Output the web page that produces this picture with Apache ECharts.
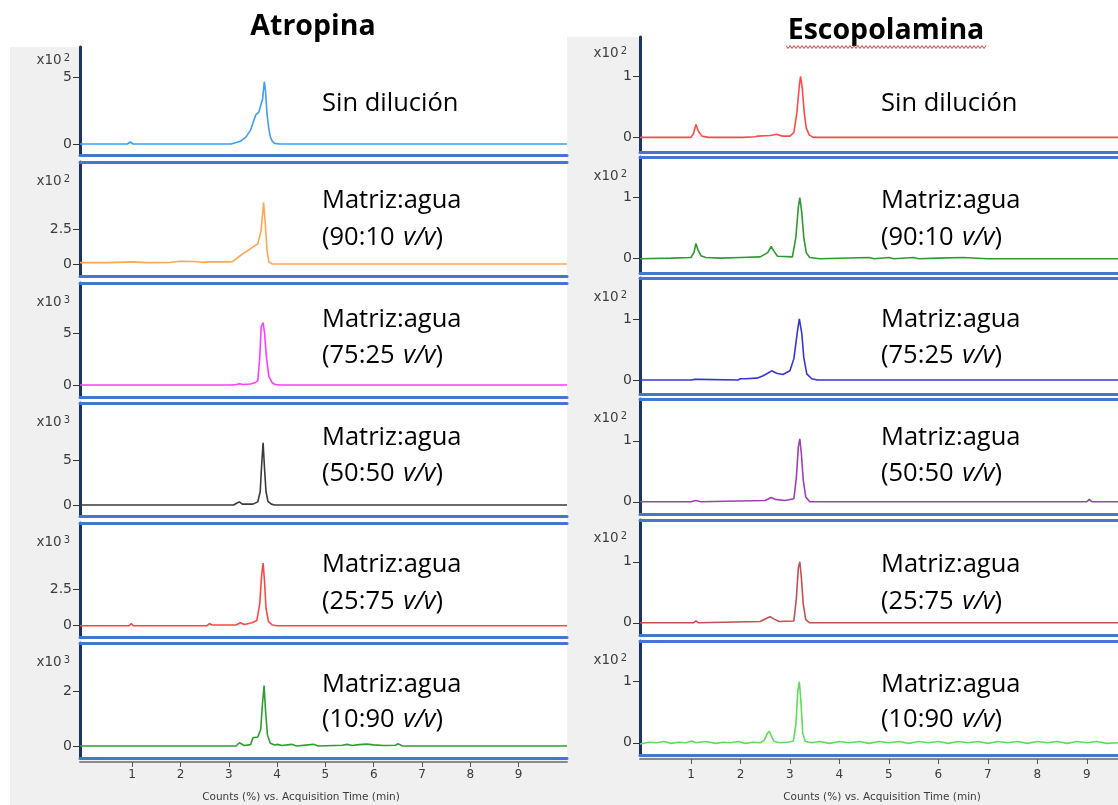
<!DOCTYPE html>
<html><head><meta charset="utf-8">
<script src="https://cdn.jsdelivr.net/npm/echarts@6/dist/echarts.min.js"></script>
<style>
html,body{margin:0;padding:0;background:#fff;}
#wrap{position:relative;width:1118px;height:805px;overflow:hidden;}
.bg{position:absolute;}
#chart{position:absolute;left:0;top:0;width:1118px;height:805px;}
</style></head><body>
<div id="wrap">
<div class="bg" style="left:10px;top:47px;width:557px;height:758px;background:#f0f0f0"></div>
<div class="bg" style="left:567px;top:37px;width:551px;height:768px;background:#f0f0f0"></div>
<div class="bg" style="left:80px;top:47px;width:487px;height:711px;background:#fff"></div>
<div class="bg" style="left:640px;top:37px;width:478px;height:719px;background:#fff"></div>
<div id="chart"></div>
</div>
<script>
// ---------------- DATA ----------------
const panelTitles = ['Atropina', 'Escopolamina'];
const sampleLabels = ['Sin dilución', 'Matriz:agua', 'Matriz:agua', 'Matriz:agua', 'Matriz:agua', 'Matriz:agua'];
const sampleRatios = [null, '90:10', '75:25', '50:50', '25:75', '10:90'];
const timeTicks = [1, 2, 3, 4, 5, 6, 7, 8, 9];
const xAxisTitle = 'Counts (%) vs. Acquisition Time (min)';

const atropinaTickValues = [5, 2.5, 5, 5, 2.5, 2];
const atropinaExponents = ['2', '2', '3', '3', '3', '3'];
const escopolaminaTickValues = [1, 1, 1, 1, 1, 1];
const escopolaminaExponents = ['2', '2', '2', '2', '2', '2'];

// Atropina traces [time (min), counts (x10^n)]
const atropinaSinDilucion = [[-0.08,0],[0.9,0],[0.96,0.15],[1.02,0],[3.05,0],[3.12,0.08],[3.24,0.2],[3.35,0.5],[3.45,1.05],[3.52,1.8],[3.56,2.2],[3.62,2.4],[3.66,2.5],[3.7,3.4],[3.735,4.7],[3.76,4.0],[3.79,2.3],[3.83,1.1],[3.86,0.55],[3.9,0.2],[3.95,0.05],[4.05,0],[10,0]];
const atropina9010 = [[-0.08,0.1],[0.5,0.1],[1.0,0.15],[1.3,0.1],[1.8,0.12],[2.0,0.2],[2.3,0.18],[2.45,0.12],[2.6,0.15],[3.0,0.15],[3.07,0.16],[3.2,0.5],[3.31,0.78],[3.41,1.0],[3.51,1.24],[3.6,1.45],[3.64,1.52],[3.67,2.43],[3.72,4.4],[3.76,2.66],[3.79,1.0],[3.83,0.16],[3.9,0],[10,0]];
const atropina7525 = [[-0.08,0],[3.08,0],[3.12,0.15],[3.16,0.05],[3.22,0.12],[3.3,0.05],[3.45,0.1],[3.55,0.25],[3.6,0.4],[3.64,2.6],[3.67,5.6],[3.71,6.0],[3.74,5.0],[3.78,2.6],[3.83,0.8],[3.9,0.2],[3.96,0.05],[4.05,0],[10,0]];
const atropina5050 = [[-0.08,0],[3.1,0],[3.16,0.2],[3.22,0.35],[3.28,0.1],[3.5,0.1],[3.6,0.35],[3.65,1.5],[3.68,4.5],[3.71,6.9],[3.74,4.0],[3.77,1.5],[3.81,0.4],[3.88,0.1],[3.95,0],[10,0]];
const atropina2575 = [[-0.08,0],[0.94,0],[0.98,0.15],[1.02,0],[2.55,0],[2.6,0.15],[2.65,0.05],[3.15,0.05],[3.24,0.2],[3.32,0.08],[3.48,0.2],[3.58,0.35],[3.64,1.5],[3.68,3.5],[3.71,4.3],[3.74,3.0],[3.77,1.2],[3.82,0.3],[3.9,0.05],[4.0,0],[10,0]];
const atropina1090 = [[-0.08,0],[3.15,0],[3.22,0.12],[3.26,0.1],[3.32,0.02],[3.45,0.05],[3.5,0.3],[3.6,0.33],[3.66,0.6],[3.7,1.6],[3.73,2.2],[3.76,1.3],[3.8,0.4],[3.86,0.1],[3.95,0.04],[4.0,0.06],[4.1,0.02],[4.3,0.06],[4.4,0],[4.75,0.06],[4.85,0],[5.35,0.03],[5.45,0.06],[5.55,0.02],[5.7,0.05],[5.85,0.07],[6.0,0.04],[6.2,0.02],[6.45,0.03],[6.5,0.08],[6.6,0],[10,0]];

// Escopolamina traces [time (min), counts (x10^2)]
const escopolaminaSinDilucion = [[-0.03,0],[1.0,0],[1.05,0.06],[1.1,0.21],[1.15,0.1],[1.22,0.02],[1.35,0],[1.95,0],[1.99,0.02],[2.05,0],[2.3,0.01],[2.35,0.02],[2.6,0.03],[2.73,0.05],[2.85,0.02],[3.0,0.02],[3.08,0.08],[3.14,0.4],[3.19,0.85],[3.215,1.0],[3.25,0.8],[3.29,0.4],[3.33,0.15],[3.39,0.04],[3.47,0],[9.63,0]];
const escopolamina9010 = [[-0.03,0],[0.6,0.01],[1.0,0.02],[1.06,0.1],[1.1,0.25],[1.14,0.15],[1.2,0.05],[1.3,0.02],[1.6,0.01],[2.0,0.02],[2.4,0.03],[2.55,0.1],[2.62,0.2],[2.68,0.12],[2.75,0.04],[3.05,0.03],[3.12,0.35],[3.17,0.85],[3.2,1.0],[3.24,0.75],[3.28,0.35],[3.33,0.1],[3.4,0.02],[3.6,0],[4.6,0.02],[4.7,0],[5.0,0.02],[5.1,0],[5.5,0.02],[5.6,0],[6.0,0.01],[6.5,0.02],[7.0,0],[9.63,0]];
const escopolamina7525 = [[-0.03,0],[1.0,0],[1.03,0.03],[1.08,0.01],[1.12,0.03],[1.18,0.01],[1.95,0],[2.0,0.02],[2.1,0.02],[2.33,0.03],[2.46,0.07],[2.55,0.11],[2.63,0.15],[2.73,0.11],[2.86,0.09],[3.0,0.15],[3.08,0.35],[3.12,0.6],[3.15,0.79],[3.19,1.0],[3.24,0.76],[3.28,0.37],[3.34,0.1],[3.44,0.02],[3.55,0],[9.63,0]];
const escopolamina5050 = [[-0.03,0],[1.0,0],[1.1,0.02],[1.2,0],[2.5,0.02],[2.62,0.07],[2.7,0.04],[2.9,0.02],[3.08,0.05],[3.13,0.4],[3.17,0.9],[3.2,1.03],[3.23,0.8],[3.27,0.35],[3.32,0.08],[3.4,0],[9.0,0],[9.05,0.04],[9.1,0],[9.63,0]];
const escopolamina2575 = [[-0.03,0],[1.05,0],[1.1,0.03],[1.15,0],[2.4,0.02],[2.52,0.07],[2.6,0.1],[2.68,0.06],[2.78,0.02],[3.08,0.03],[3.13,0.4],[3.17,0.9],[3.2,1.0],[3.23,0.75],[3.27,0.3],[3.32,0.05],[3.4,0],[9.63,0]];
const escopolamina1090 = [[-0.03,-0.02],[0.15,0.01],[0.3,0],[0.45,0.02],[0.6,-0.01],[0.75,0.01],[0.9,0],[1.02,0.03],[1.1,0],[1.3,0.02],[1.5,-0.01],[1.65,0.01],[1.8,0],[1.95,0.02],[2.1,-0.01],[2.25,0.01],[2.4,0],[2.48,0.04],[2.54,0.15],[2.58,0.19],[2.62,0.12],[2.68,0.02],[2.8,0],[2.95,0.01],[3.07,0.03],[3.12,0.3],[3.16,0.85],[3.19,1.0],[3.22,0.7],[3.26,0.15],[3.31,0.02],[3.45,0],[3.6,0.02],[3.8,-0.01],[4.0,0.02],[4.2,0],[4.4,0.02],[4.6,-0.01],[4.8,0.02],[5.0,0],[5.2,0.02],[5.4,-0.01],[5.6,0.02],[5.8,0],[6.0,0.02],[6.2,-0.01],[6.4,0.02],[6.6,0],[6.8,0.02],[7.0,-0.01],[7.2,0.02],[7.4,0],[7.6,0.02],[7.8,-0.01],[8.0,0.02],[8.2,0],[8.4,0.02],[8.6,-0.01],[8.8,0.02],[9.0,0],[9.2,0.02],[9.4,-0.01],[9.63,0]];

// ---------------- LAYOUT ----------------
const panels = [
  {
    title: panelTitles[0], titleX: 313, titleY: 27,
    traces: [atropinaSinDilucion, atropina9010, atropina7525, atropina5050, atropina2575, atropina1090],
    colors: ['#3f9cff', '#ffa850', '#ff3cff', '#3a3a3a', '#ff4646', '#2f9e2f'],
    tickValues: atropinaTickValues, exps: atropinaExponents,
    x: 80, w: 487, xMin: -0.08, xMax: 10.0,
    tops: [47, 162, 283, 403, 523, 643],
    bottoms: [155, 276, 397, 516, 637, 758],
    yMin: [-0.83, -0.857, -1.154, -1.22, -0.776, -0.436],
    yMax: [7.32, 7.29, 9.81, 11.33, 7.05, 3.745],
    nameGap: [-13, -19, -19, -19, -19, -19], namePad: 10,
    textX: 322, axisTitleX: 301, labelMargin: 7
  },
  {
    title: panelTitles[1], titleX: 886, titleY: 31,
    traces: [escopolaminaSinDilucion, escopolamina9010, escopolamina7525, escopolamina5050, escopolamina2575, escopolamina1090],
    colors: ['#ff4a4a', '#2f9a2f', '#3636d6', '#a040b0', '#c25050', '#5edc5e'],
    tickValues: escopolaminaTickValues, exps: escopolaminaExponents,
    x: 640, w: 478, xMin: -0.03, xMax: 9.63,
    tops: [37, 157, 278, 399, 520, 641],
    bottoms: [152, 273, 394, 514, 635, 755],
    yMin: [-0.24, -0.234, -0.23, -0.2, -0.2, -0.2],
    yMax: [1.644, 1.667, 1.672, 1.684, 1.684, 1.667],
    nameGap: [-16, -19, -19, -19, -18, -19], namePad: 13,
    textX: 881, axisTitleX: 882, labelMargin: 10
  }
];
const textY = [[104], [201, 238], [320, 356], [438, 474], [565, 602], [685, 720]];

// ---------------- OPTION ----------------
const grid = [], xAxis = [], yAxis = [], series = [], graphic = [];
const blue = '#4677d0';
const axisFont = 'DejaVu Sans';
const noteFont = 'Open Sans';

panels.forEach((p) => {
  p.traces.forEach((trace, r) => {
    const gi = grid.length;
    grid.push({ left: p.x, top: p.tops[r], width: p.w, height: p.bottoms[r] - p.tops[r], show: false });
    const xb = xAxis.length;
    const baseX = { gridIndex: gi, type: 'value', min: p.xMin, max: p.xMax, axisTick: { show: false }, axisLabel: { show: false }, splitLine: { show: false } };
    xAxis.push(Object.assign({}, baseX, { position: 'bottom', axisLine: { show: true, onZero: false, lineStyle: { color: blue, width: 3 } } }));
    xAxis.push(Object.assign({}, baseX, { position: 'top', axisLine: { show: r > 0, onZero: false, lineStyle: { color: blue, width: 3 } } }));
    if (r === 5) {
      xAxis.push(Object.assign({}, baseX, {
        position: 'bottom', offset: 4,
        axisLine: { show: true, onZero: false, lineStyle: { color: '#8a8a8a', width: 2 } },
        axisTick: { show: true, customValues: timeTicks, length: 5, lineStyle: { color: '#555', width: 1 } },
        axisLabel: { show: true, customValues: timeTicks, color: '#3a3a3a', fontSize: 12, margin: p.labelMargin, fontFamily: axisFont }
      }));
    }
    const tv = [0, p.tickValues[r]];
    yAxis.push({
      gridIndex: gi, type: 'value', min: p.yMin[r], max: p.yMax[r],
      axisLine: { show: true, onZero: false, lineStyle: { color: '#1d3461', width: 3 } },
      axisTick: { show: true, customValues: tv, length: 7, lineStyle: { color: '#333', width: 1 } },
      axisLabel: { show: true, customValues: tv, color: '#3a3a3a', fontSize: 14, margin: 8, fontFamily: axisFont },
      splitLine: { show: false },
      name: '{a|x10}{s|' + p.exps[r] + '}', nameLocation: 'end', nameGap: p.nameGap[r],
      nameTextStyle: {
        align: 'right', verticalAlign: 'middle', padding: [0, p.namePad, 0, 0],
        rich: {
          a: { fontSize: 13.5, color: '#3f3f3f', fontFamily: axisFont },
          s: { fontSize: 10, color: '#3f3f3f', fontFamily: axisFont, verticalAlign: 'top', padding: [0, 0, 0, 2] }
        }
      }
    });
    series.push({
      type: 'line', xAxisIndex: xb, yAxisIndex: gi, data: trace,
      showSymbol: false, symbol: 'none', silent: true, clip: true,
      lineStyle: { color: p.colors[r], width: 1.6 }, itemStyle: { color: p.colors[r] }
    });
    // annotation text
    const ys = textY[r];
    graphic.push({ type: 'text', x: p.textX, y: ys[0], style: { text: sampleLabels[r], fontSize: 25.5, fontFamily: noteFont, fill: '#000', align: 'left', verticalAlign: 'middle' } });
    if (sampleRatios[r]) {
      graphic.push({ type: 'text', x: p.textX, y: ys[1], style: {
        text: '(' + sampleRatios[r] + ' {i|v/v})', fontSize: 25.5, fontFamily: noteFont, fill: '#000', align: 'left', verticalAlign: 'middle',
        rich: { i: { fontStyle: 'italic', fontSize: 25.5, fontFamily: noteFont, fill: '#000', padding: [0, 0, 0, 2] } }
      } });
    }
  });
  graphic.push({ type: 'text', x: p.titleX, y: p.titleY, style: { text: p.title, fontSize: 28.5, fontWeight: 'bold', fontFamily: noteFont, fill: '#000', align: 'center', verticalAlign: 'middle' } });
  graphic.push({ type: 'text', x: p.axisTitleX, y: 797, style: { text: xAxisTitle, fontSize: 10.5, fontFamily: axisFont, fill: '#3a3a3a', align: 'center', verticalAlign: 'middle' } });
});

// spell-check wavy underline under "Escopolamina"
const wave = [];
for (let x = 786, k = 0; x <= 987; x += 2, k++) wave.push([x, 47 + (k % 2 ? 1.5 : -1.5)]);
graphic.push({ type: 'polyline', shape: { points: wave }, style: { stroke: '#e53a3a', lineWidth: 1, fill: null } });

const chart = echarts.init(document.getElementById('chart'), null, { renderer: 'canvas' });
chart.setOption({ animation: false, backgroundColor: 'transparent', grid, xAxis, yAxis, series, graphic });
</script>
</body></html>
